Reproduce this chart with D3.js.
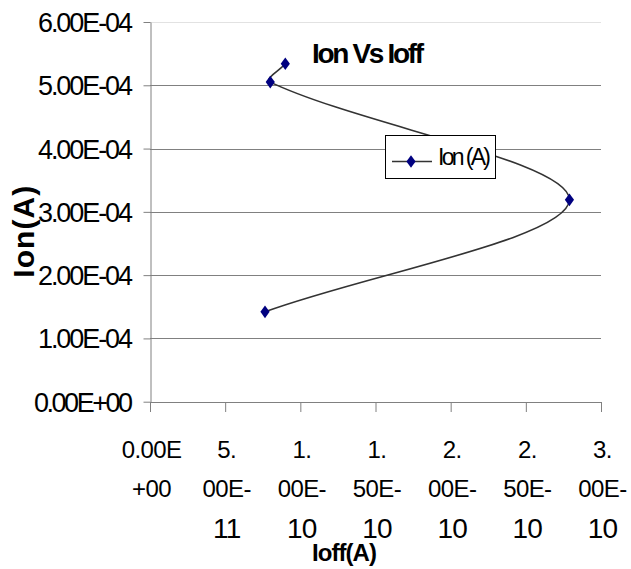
<!DOCTYPE html>
<html><head><meta charset="utf-8">
<script src="https://cdn.jsdelivr.net/npm/d3@7"></script>
<style>
html,body{margin:0;padding:0;background:#fff;}
svg{display:block;font-family:"Liberation Sans",Arial,sans-serif;}
</style></head>
<body><svg id="c" width="631" height="569"></svg>
<script>
// ---- data ----
const ioffValues = [9.0e-11, 8.0e-11, 2.79e-10, 7.65e-11];
const ionValues  = [5.34e-4, 5.05e-4, 3.19e-4, 1.42e-4];
const seriesName = "Ion (A)";
const chartTitle = "Ion Vs Ioff";
const xTitle = "Ioff(A)";
const yTitle = "Ion(A)";
const yTicks = [0, 1e-4, 2e-4, 3e-4, 4e-4, 5e-4, 6e-4];
const yTickLabels = ["0.00E+00","1.00E-04","2.00E-04","3.00E-04","4.00E-04","5.00E-04","6.00E-04"];
const xTicks = [0, 5e-11, 1e-10, 1.5e-10, 2e-10, 2.5e-10, 3e-10];
const xTickLabels = [["0.00E","+00"],["5.","00E-","11"],["1.","00E-","10"],["1.","50E-","10"],["2.","00E-","10"],["2.","50E-","10"],["3.","00E-","10"]];

const svg = d3.select("#c");
const x = d3.scaleLinear().domain([0, 3e-10]).range([150, 601]);
const y = d3.scaleLinear().domain([0, 6e-4]).range([401.7, 22]);
const gray = "#808080";

// gridlines
svg.append("g").selectAll("line").data(yTicks.slice(1)).join("line")
  .attr("x1", x(0)).attr("x2", x(3e-10))
  .attr("y1", d => Math.round(y(d)) + 0.5).attr("y2", d => Math.round(y(d)) + 0.5)
  .attr("stroke", (d, i) => i === yTicks.length - 2 ? "#e2e2e2" : gray)
  .attr("stroke-width", 1);

// y axis
const yAxis = svg.append("g").attr("transform", "translate(150.5,0)")
  .call(d3.axisLeft(y).tickValues(yTicks).tickSize(7).tickSizeOuter(0).tickFormat((d, i) => yTickLabels[i]));
yAxis.select(".domain").attr("stroke", gray);
yAxis.selectAll(".tick line").attr("stroke", gray);
yAxis.selectAll(".tick text")
  .attr("x", -17.5).attr("dy", null).attr("y", 9.5)
  .attr("fill", "#000").attr("font-size", 27)
  .attr("font-family", "'Liberation Sans',Arial,sans-serif")
  .attr("textLength", (d, i) => i === 0 ? 99 : 95)
  .attr("lengthAdjust", "spacing");

// x axis
const xAxis = svg.append("g").attr("transform", "translate(0,402)")
  .call(d3.axisBottom(x).tickValues(xTicks).tickSize(10).tickSizeOuter(0).tickFormat(""));
xAxis.select(".domain").attr("stroke", gray);
xAxis.selectAll(".tick line").attr("stroke", gray);
xAxis.selectAll(".tick text").remove();
const lineBase = [56, 95, 136];
const lineSize = [24, 24, 28];
xAxis.selectAll(".tick").each(function(d, i) {
  const g = d3.select(this);
  xTickLabels[i].forEach((s, j) => {
    g.append("text").attr("x", 1).attr("y", lineBase[j])
      .attr("text-anchor", "middle").attr("font-size", lineSize[j])
      .attr("letter-spacing", j < 2 ? -0.6 : -0.8)
      .attr("fill", "#000").text(s);
  });
});

// series: smoothed line (Bezier, tangent P[i+1]-P[i-1] split by chord lengths)
const pts = ioffValues.map((v, i) => [v, ionValues[i]]);
const sp = pts.map(d => [x(d[0]), y(d[1])]);
function smoothPath(p) {
  const n = p.length, path = d3.path();
  const dist = (a, b) => Math.hypot(b[0] - a[0], b[1] - a[1]);
  const ctrl = p.map((pt, i) => {
    if (i === 0) { const q = p[1]; return {out: [pt[0] + (q[0] - pt[0]) / 3, pt[1] + (q[1] - pt[1]) / 3]}; }
    if (i === n - 1) { const q = p[n - 2]; return {in: [pt[0] + (q[0] - pt[0]) / 3, pt[1] + (q[1] - pt[1]) / 3]}; }
    const a = p[i - 1], b = p[i + 1];
    const dIn = dist(a, pt), dOut = dist(pt, b), s = dIn + dOut;
    const tx = (b[0] - a[0]) / 3, ty = (b[1] - a[1]) / 3;
    return {in: [pt[0] - tx * dIn / s, pt[1] - ty * dIn / s],
            out: [pt[0] + tx * dOut / s, pt[1] + ty * dOut / s]};
  });
  path.moveTo(p[0][0], p[0][1]);
  for (let i = 1; i < n; i++) {
    path.bezierCurveTo(ctrl[i - 1].out[0], ctrl[i - 1].out[1], ctrl[i].in[0], ctrl[i].in[1], p[i][0], p[i][1]);
  }
  return path.toString();
}
svg.append("path").attr("d", smoothPath(sp))
  .attr("fill", "none").attr("stroke", "#333").attr("stroke-width", 1.6);

const diamond = "M0,-6.3L4.6,0L0,6.3L-4.6,0Z";
svg.append("g").selectAll("path").data(pts).join("path")
  .attr("d", diamond)
  .attr("transform", d => `translate(${x(d[0])},${y(d[1])})`)
  .attr("fill", "#000080");

// legend
const lg = svg.append("g");
lg.append("rect").attr("x", 385.5).attr("y", 135.5).attr("width", 110).attr("height", 43)
  .attr("fill", "#fff").attr("stroke", "#000").attr("stroke-width", 1);
lg.append("line").attr("x1", 392).attr("x2", 432).attr("y1", 161.5).attr("y2", 161.5)
  .attr("stroke", "#333").attr("stroke-width", 1.6);
lg.append("path").attr("d", diamond).attr("transform", "translate(411,161.5)").attr("fill", "#000080");
lg.append("text").attr("x", 438).attr("y", 165).attr("font-size", 23)
  .attr("textLength", 53).attr("lengthAdjust", "spacing").text(seriesName);

// titles
svg.append("text").attr("x", 312).attr("y", 63).attr("font-size", 28).attr("font-weight", "bold")
  .attr("textLength", 112).attr("lengthAdjust", "spacing").text(chartTitle);
svg.append("text").attr("x", 344.5).attr("y", 561).attr("text-anchor", "middle")
  .attr("font-size", 24).attr("font-weight", "bold")
  .attr("textLength", 65).attr("lengthAdjust", "spacing").text(xTitle);
svg.append("text").attr("transform", "translate(34,231.7) rotate(-90)").attr("text-anchor", "middle")
  .attr("font-size", 30).attr("font-weight", "bold")
  .attr("textLength", 92).attr("lengthAdjust", "spacing").text(yTitle);
</script>
</body></html>
